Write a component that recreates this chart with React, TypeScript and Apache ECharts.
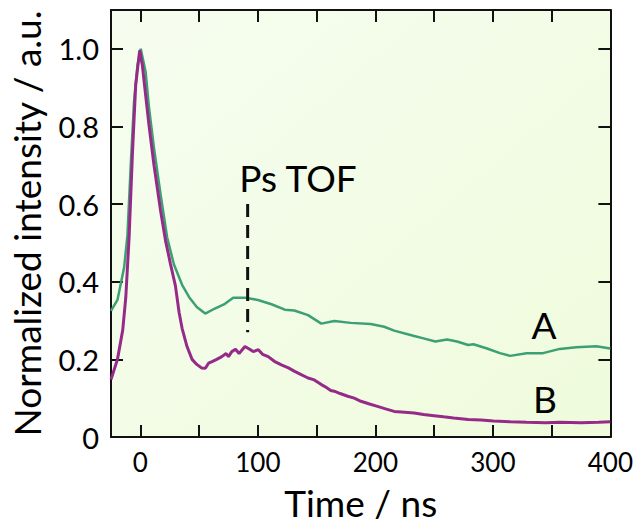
import React, { useEffect, useRef } from "react";
import * as echarts from "echarts";

// Sample A (green)
const timesA = [-25, -19.5, -13.8, -11, -8.2, -5.4, -2.5, 0.3, 4.5, 7.3, 11.6, 17.2, 22.8, 28.5, 35.5, 42, 48, 55.2, 63.4, 72, 79, 89, 100, 111.6, 122.9, 131, 142.7, 154, 165, 179, 196, 207.5, 216, 233, 241, 251, 261, 269.5, 279, 283.5, 295, 306, 314.6, 328.7, 342.7, 356.9, 371, 388, 400];
const valuesA = [0.325, 0.353, 0.437, 0.52, 0.7, 0.864, 0.957, 1.0, 0.94, 0.85, 0.744, 0.625, 0.514, 0.445, 0.392, 0.358, 0.335, 0.318, 0.331, 0.343, 0.359, 0.359, 0.353, 0.342, 0.328, 0.326, 0.314, 0.292, 0.299, 0.294, 0.291, 0.284, 0.274, 0.26, 0.254, 0.246, 0.251, 0.246, 0.237, 0.239, 0.228, 0.216, 0.209, 0.216, 0.216, 0.227, 0.231, 0.234, 0.228];

// Sample B (purple)
const timesB = [-25, -19.5, -15, -12.4, -9.6, -6.8, -4, -0.6, 1.7, 4.5, 7.3, 11.6, 17.2, 21.4, 25.6, 29.8, 33, 35.5, 39.7, 44, 48, 52, 55.3, 58, 61, 65, 69.3, 73, 75, 77.8, 81, 84, 89, 93, 96, 100.4, 104, 108.8, 114, 120, 126, 131.3, 136, 142.7, 148, 154, 158, 162, 165, 170, 176.5, 182, 187.7, 195, 201.8, 208, 216, 225, 233, 241, 250, 258, 266.6, 279, 290, 300.5, 315, 328.7, 345, 357, 375, 390, 400];
const valuesB = [0.148, 0.2, 0.276, 0.36, 0.514, 0.727, 0.906, 0.996, 0.957, 0.88, 0.804, 0.7, 0.583, 0.506, 0.446, 0.39, 0.32, 0.28, 0.233, 0.2, 0.187, 0.178, 0.177, 0.19, 0.194, 0.2, 0.207, 0.215, 0.207, 0.22, 0.226, 0.215, 0.233, 0.226, 0.22, 0.225, 0.213, 0.207, 0.195, 0.186, 0.178, 0.169, 0.162, 0.152, 0.147, 0.135, 0.128, 0.12, 0.118, 0.112, 0.105, 0.1, 0.092, 0.085, 0.079, 0.073, 0.066, 0.064, 0.062, 0.058, 0.055, 0.052, 0.049, 0.045, 0.044, 0.041, 0.039, 0.038, 0.037, 0.038, 0.037, 0.038, 0.039];

// Ps TOF marker
const tofTime = 91.3;
const tofRange = [0.6, 0.27];

const xTicks = [0, 50, 100, 150, 200, 250, 300, 350, 400];
const xLabels = [0, 100, 200, 300, 400];
const yTicks = [0, 0.2, 0.4, 0.6, 0.8, 1.0];

const FONT = "Lato";

export default function App() {
  const ref = useRef<HTMLDivElement>(null);
  useEffect(() => {
    if (!ref.current) return;
    const chart = echarts.init(ref.current, undefined, { renderer: "svg" });
    const axisLine = { show: true, onZero: false, lineStyle: { color: "#111", width: 2 } };
    const tick = (vals: number[]) => ({ show: true, inside: true, length: 12, customValues: vals, lineStyle: { color: "#111", width: 2 } });
    chart.setOption({
      animation: false,
      backgroundColor: "#ffffff",
      grid: {
        left: 109, right: 25, top: 10, bottom: 85, show: true, borderWidth: 0,
        backgroundColor: new echarts.graphic.LinearGradient(0, 0, 1, 1, [
          { offset: 0, color: "#f6fdf0" },
          { offset: 1, color: "#effbdc" },
        ]),
      },
      xAxis: [
        {
          type: "value", min: -25, max: 400, position: "bottom",
          axisLine, axisTick: tick(xTicks), splitLine: { show: false },
          axisLabel: { customValues: xLabels, color: "#000", fontFamily: FONT, fontSize: 26, margin: 12 },
          name: "Time / ns", nameLocation: "middle", nameGap: 47,
          nameTextStyle: { color: "#000", fontFamily: FONT, fontSize: 37 },
        },
        {
          type: "value", min: -25, max: 400, position: "top",
          axisLine, axisTick: tick(xTicks), splitLine: { show: false }, axisLabel: { show: false },
        },
      ],
      yAxis: [
        {
          type: "value", min: 0, max: 1.1, position: "left",
          axisLine, axisTick: tick(yTicks), splitLine: { show: false },
          axisLabel: {
            customValues: yTicks, color: "#000", fontFamily: FONT, fontSize: 29, margin: 12,
            formatter: (v: number) => (v === 0 ? "0" : v.toFixed(1)),
          },
          name: "Normalized intensity / a.u.", nameLocation: "middle", nameGap: 66,
          nameTextStyle: { color: "#000", fontFamily: FONT, fontSize: 37 },
        },
        {
          type: "value", min: 0, max: 1.1, position: "right",
          axisLine, axisTick: tick(yTicks), splitLine: { show: false }, axisLabel: { show: false },
        },
      ],
      series: [
        {
          name: "A", type: "line", showSymbol: false, symbol: "none",
          data: timesA.map((t, i) => [t, valuesA[i]]),
          lineStyle: { color: "#3d9f74", width: 2.5 }, z: 2,
        },
        {
          name: "B", type: "line", showSymbol: false, symbol: "none",
          data: timesB.map((t, i) => [t, valuesB[i]]),
          lineStyle: { color: "#962a88", width: 3 }, z: 3,
        },
        {
          name: "Ps TOF", type: "line", showSymbol: false, symbol: "none",
          data: tofRange.map((v) => [tofTime, v]),
          lineStyle: { color: "#111", width: 3, type: [13, 8] }, z: 4,
        },
      ],
      graphic: [
        { type: "text", x: 298, y: 177, style: { text: "Ps TOF", fill: "#000", font: `37px ${FONT}`, textAlign: "center", textVerticalAlign: "middle" } },
        { type: "text", x: 544, y: 324, style: { text: "A", fill: "#000", font: `37px ${FONT}`, textAlign: "center", textVerticalAlign: "middle" } },
        { type: "text", x: 545, y: 398, style: { text: "B", fill: "#000", font: `37px ${FONT}`, textAlign: "center", textVerticalAlign: "middle" } },
      ],
    });
    return () => chart.dispose();
  }, []);
  return <div ref={ref} style={{ width: 636, height: 526, position: "absolute", left: 0, top: 0 }} />;
}
